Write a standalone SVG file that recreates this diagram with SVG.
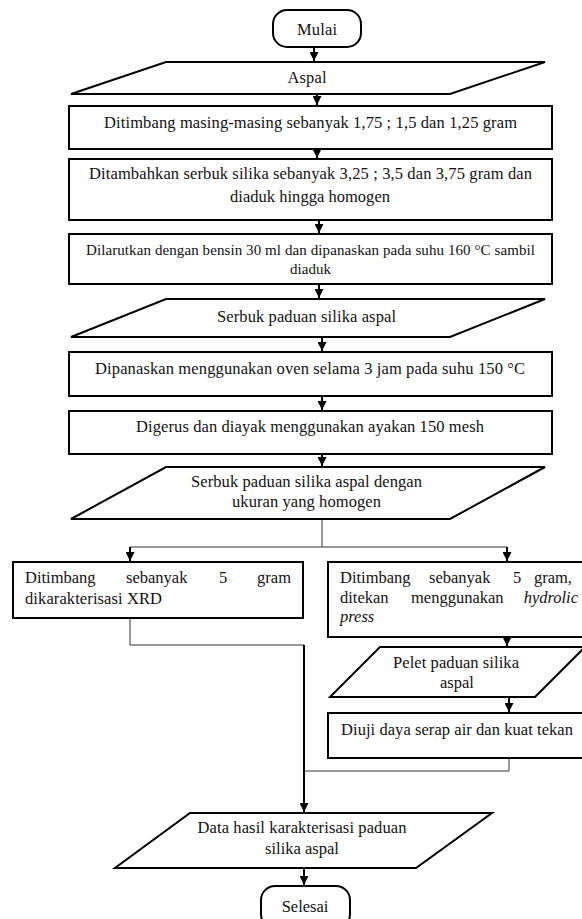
<svg xmlns="http://www.w3.org/2000/svg" width="582" height="919" viewBox="0 0 582 919">
<style>
.s{fill:#fff;stroke:#000;stroke-width:2}
.t{font-family:"Liberation Serif","Times New Roman",serif;font-size:16.5px;fill:#111}
.m{text-anchor:middle}
.i{font-style:italic}
.c{fill:none;stroke:#000;stroke-width:2}
.th{fill:none;stroke:#333;stroke-width:1}
</style>
<defs>
<marker id="ah" viewBox="0 0 10 10" refX="10" refY="5" markerWidth="4.5" markerHeight="4.5" orient="auto" markerUnits="strokeWidth">
<path d="M0,0 L10,5 L0,10 Z" fill="#000"/>
</marker>
</defs>
<rect width="582" height="919" fill="#fff"/>
<g id="connectors">
<line class="c" x1="314" y1="47" x2="314" y2="61" marker-end="url(#ah)"/>
<line class="c" x1="317" y1="94" x2="317" y2="105" marker-end="url(#ah)"/>
<line class="c" x1="317" y1="149" x2="317" y2="158" marker-end="url(#ah)"/>
<line class="c" x1="319" y1="220" x2="319" y2="233" marker-end="url(#ah)"/>
<line class="c" x1="319" y1="284" x2="319" y2="298" marker-end="url(#ah)"/>
<line class="c" x1="322" y1="337" x2="322" y2="351" marker-end="url(#ah)"/>
<line class="c" x1="322" y1="396" x2="322" y2="410" marker-end="url(#ah)"/>
<line class="c" x1="322" y1="454" x2="322" y2="466" marker-end="url(#ah)"/>
<polyline class="th" points="322,519 322,547"/>
<polyline class="th" points="130,547 507,547"/>
<line class="c" x1="130" y1="547" x2="130" y2="561" marker-end="url(#ah)"/>
<line class="c" x1="507" y1="547" x2="507" y2="561" marker-end="url(#ah)"/>
<polyline class="th" points="130,618 130,645 304,645"/>
<line class="c" x1="507" y1="637" x2="507" y2="646" marker-end="url(#ah)"/>
<line class="c" x1="509" y1="697" x2="509" y2="712" marker-end="url(#ah)"/>
<polyline class="th" points="509,758 509,771 304,771"/>
<line class="c" x1="304" y1="645" x2="304" y2="812" marker-end="url(#ah)"/>
<line class="c" x1="304" y1="868" x2="304" y2="885" marker-end="url(#ah)"/>
</g>
<g id="mulai">
<rect class="s" x="273" y="10" width="88" height="37" rx="14"/>
<text class="t m" x="317" y="35" textLength="40">Mulai</text>
</g>
<g id="aspal">
<polygon class="s" points="166,62 545,62 450,94 71,94"/>
<text class="t m" x="307" y="83" textLength="39">Aspal</text>
</g>
<g id="ditimbang1">
<rect class="s" x="69" y="106" width="483" height="43"/>
<text class="t m" x="310.5" y="128" textLength="413">Ditimbang masing-masing sebanyak 1,75 ; 1,5 dan 1,25 gram</text>
</g>
<g id="ditambahkan">
<rect class="s" x="69" y="159" width="483" height="61"/>
<text class="t m" x="310.5" y="179" textLength="443">Ditambahkan serbuk silika sebanyak 3,25 ; 3,5 dan 3,75 gram dan</text>
<text class="t m" x="310" y="202" textLength="160">diaduk hingga homogen</text>
</g>
<g id="dilarutkan">
<rect class="s" x="69" y="234" width="483" height="50"/>
<text class="t m" x="310.5" y="255" textLength="449" style="font-size:15px">Dilarutkan dengan bensin 30 ml dan dipanaskan pada suhu 160 °C sambil</text>
<text class="t m" x="310.5" y="274" textLength="41" style="font-size:15px">diaduk</text>
</g>
<g id="serbuk1">
<polygon class="s" points="166,299 545,299 450,337 71,337"/>
<text class="t m" x="306.5" y="322" textLength="179">Serbuk paduan silika aspal</text>
</g>
<g id="dipanaskan">
<rect class="s" x="69" y="352" width="483" height="44"/>
<text class="t m" x="310" y="374" textLength="430">Dipanaskan menggunakan oven selama 3 jam pada suhu 150 °C</text>
</g>
<g id="digerus">
<rect class="s" x="69" y="411" width="483" height="43"/>
<text class="t m" x="310" y="432" textLength="348">Digerus dan diayak menggunakan ayakan 150 mesh</text>
</g>
<g id="serbuk2">
<polygon class="s" points="166,467 545,467 450,519 71,519"/>
<text class="t m" x="306.5" y="487" textLength="231">Serbuk paduan silika aspal dengan</text>
<text class="t m" x="306.5" y="507" textLength="149">ukuran yang homogen</text>
</g>
<g id="xrd">
<rect class="s" x="13" y="562" width="290" height="56"/>
<text class="t" y="583"><tspan x="25">Ditimbang</tspan><tspan x="126">sebanyak</tspan><tspan x="219">5</tspan><tspan x="291" text-anchor="end">gram</tspan></text>
<text class="t" x="25" y="604" textLength="137">dikarakterisasi XRD</text>
</g>
<g id="press">
<rect class="s" x="328" y="562" width="264" height="75"/>
<text class="t" y="583"><tspan x="340">Ditimbang</tspan><tspan x="429">sebanyak</tspan><tspan x="513">5</tspan><tspan x="572" text-anchor="end">gram,</tspan></text>
<text class="t" y="603"><tspan x="340">ditekan</tspan><tspan x="411">menggunakan</tspan><tspan x="578" text-anchor="end" class="i">hydrolic</tspan></text>
<text class="t i" x="340" y="622">press</text>
</g>
<g id="pelet">
<polygon class="s" points="380,647 585,647 535,697 330,697"/>
<text class="t m" x="456" y="668" textLength="126">Pelet paduan silika</text>
<text class="t m" x="457" y="688">aspal</text>
</g>
<g id="diuji">
<rect class="s" x="328" y="713" width="264" height="45"/>
<text class="t" x="341" y="735" textLength="232">Diuji daya serap air dan kuat tekan</text>
</g>
<g id="data">
<polygon class="s" points="190,813 492,813 416,868 115,868"/>
<text class="t m" x="302" y="833" textLength="209">Data hasil karakterisasi paduan</text>
<text class="t m" x="302" y="854">silika aspal</text>
</g>
<g id="selesai">
<rect class="s" x="261" y="886" width="89" height="42" rx="14"/>
<text class="t m" x="305" y="912">Selesai</text>
</g>
</svg>
